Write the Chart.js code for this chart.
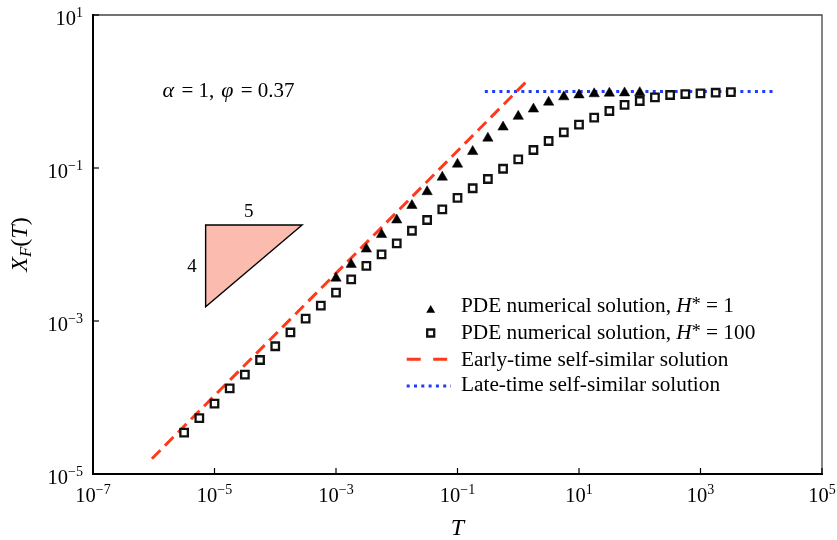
<!DOCTYPE html>
<html>
<head>
<meta charset="utf-8">
<script src="https://cdn.jsdelivr.net/npm/chart.js@4/dist/chart.umd.min.js"></script>
<style>
  html, body { margin: 0; padding: 0; background: #fff; }
  #wrap { width: 837px; height: 540px; }
</style>
</head>
<body>
<div id="wrap"><canvas id="c" width="837" height="540"></canvas></div>
<script>
// Front position X_F(T), stored as base-10 exponents of T and X_F.
const squaresLogT = [-5.5, -5.25, -5.0, -4.75, -4.5, -4.25, -4.0, -3.75, -3.5, -3.25,
                     -3.0, -2.75, -2.5, -2.25, -2.0, -1.75, -1.5, -1.25, -1.0, -0.75,
                     -0.5, -0.25, 0.0, 0.25, 0.5, 0.75, 1.0, 1.25, 1.5, 1.75,
                     2.0, 2.25, 2.5, 2.75, 3.0, 3.25, 3.5];
const squaresLogX = [-4.46, -4.27, -4.08, -3.88, -3.70, -3.51, -3.33, -3.15, -2.97, -2.80,
                     -2.63, -2.455, -2.28, -2.13, -1.985, -1.82, -1.68, -1.54, -1.39, -1.265,
                     -1.144, -1.01, -0.886, -0.765, -0.647, -0.533, -0.434, -0.342, -0.255, -0.176,
                     -0.124, -0.076, -0.046, -0.033, -0.024, -0.016, -0.007];

const trianglesLogT = [-3.0, -2.75, -2.5, -2.25, -2.0, -1.75, -1.5, -1.25, -1.0, -0.75,
                       -0.5, -0.25, 0.0, 0.25, 0.5, 0.75, 1.0, 1.25, 1.5, 1.75, 2.0];
const trianglesLogX = [-2.44, -2.26, -2.06, -1.87, -1.68, -1.49, -1.31, -1.12, -0.95, -0.785,
                       -0.61, -0.465, -0.325, -0.23, -0.14, -0.07, -0.045, -0.03, -0.022, -0.018, -0.015];

// Self-similar solutions (straight lines on log-log axes).
const earlyLogT = [-6.03, 0.14];
const earlyLogX = [-4.80, 0.135];
const lateLogT = [-0.55, 4.25];
const lateLogX = [0, 0];

// Slope marker (rise 4 over run 5).
const slopeLogT = [-5.146, -3.558, -5.146];
const slopeLogX = [-1.745, -1.745, -2.813];

// Decade exponents carrying labelled ticks.
const xTickExps = [-7, -5, -3, -1, 1, 3, 5];
const yTickExps = [-5, -3, -1, 1];

const legendLabels = [
  [{ t: 'PDE numerical solution, ' }, { t: 'H', it: true }, { t: '*', size: 18, dy: -2 }, { t: ' = 1' }],
  [{ t: 'PDE numerical solution, ' }, { t: 'H', it: true }, { t: '*', size: 18, dy: -2 }, { t: ' = 100' }],
  [{ t: 'Early-time self-similar solution' }],
  [{ t: 'Late-time self-similar solution' }]
];

const toPoints = (lt, lx) => lt.map((t, i) => ({ x: Math.pow(10, t), y: Math.pow(10, lx[i]) }));

const FAMILY = '"Liberation Serif", "Times New Roman", "DejaVu Serif", serif';
const RED = '#ff3a1c';
const BLUE = '#1e3cff';
const SALMON = '#fbbbaf';

function fontOf(s, base) { return (s.it ? 'italic ' : '') + (s.size || base || 20) + 'px ' + FAMILY; }
function richWidth(ctx, segs, base) {
  let w = 0;
  segs.forEach(s => { ctx.font = fontOf(s, base); w += ctx.measureText(s.t).width + (s.kern || 0); });
  return w;
}
function drawRich(ctx, x, y, segs, align, base) {
  const w = richWidth(ctx, segs, base);
  let cx = align === 'center' ? x - w / 2 : align === 'right' ? x - w : x;
  ctx.textAlign = 'left';
  ctx.textBaseline = 'alphabetic';
  segs.forEach(s => {
    ctx.font = fontOf(s, base);
    ctx.fillText(s.t, cx, y + (s.dy || 0));
    cx += ctx.measureText(s.t).width + (s.kern || 0);
  });
}
function drawTriangleMarker(ctx, x, y, r) {
  ctx.beginPath();
  let rad = 0;
  for (let k = 0; k < 3; k++) {
    const px = x + Math.sin(rad) * r, py = y - Math.cos(rad) * r;
    if (k === 0) ctx.moveTo(px, py); else ctx.lineTo(px, py);
    rad += 2 * Math.PI / 3;
  }
  ctx.closePath();
  ctx.fillStyle = '#000';
  ctx.fill();
}

const decor = {
  id: 'decor',
  beforeDatasetsDraw(chart) {
    const { ctx, scales: { x, y } } = chart;
    const px = slopeLogT.map(t => x.getPixelForValue(Math.pow(10, t)));
    const py = slopeLogX.map(v => y.getPixelForValue(Math.pow(10, v)));
    ctx.save();
    ctx.beginPath();
    ctx.moveTo(px[0], py[0]);
    ctx.lineTo(px[1], py[1]);
    ctx.lineTo(px[2], py[2]);
    ctx.closePath();
    ctx.fillStyle = SALMON;
    ctx.fill();
    ctx.lineWidth = 1.4;
    ctx.strokeStyle = '#000';
    ctx.stroke();
    ctx.fillStyle = '#000';
    drawRich(ctx, (px[0] + px[1]) / 2 - 5, py[0] - 8, [{ t: '5', size: 19 }], 'center');
    drawRich(ctx, px[0] - 9, (py[0] + py[2]) / 2 + 6.5, [{ t: '4', size: 19 }], 'right');
    ctx.restore();
  },
  afterDatasetsDraw(chart) {
    const { ctx, chartArea: a, scales: { x, y } } = chart;
    ctx.save();
    // frame
    ctx.lineCap = 'square';
    ctx.strokeStyle = '#444';
    ctx.lineWidth = 1.3;
    ctx.beginPath();
    ctx.moveTo(a.left, a.top); ctx.lineTo(a.right, a.top); ctx.lineTo(a.right, a.bottom);
    ctx.stroke();
    ctx.strokeStyle = '#000';
    ctx.lineWidth = 2;
    ctx.beginPath();
    ctx.moveTo(a.left, a.top); ctx.lineTo(a.left, a.bottom); ctx.lineTo(a.right, a.bottom);
    ctx.stroke();

    // inward ticks and labels
    ctx.lineWidth = 1.2;
    ctx.lineCap = 'butt';
    ctx.fillStyle = '#000';
    xTickExps.forEach(e => {
      const px = x.getPixelForValue(Math.pow(10, e));
      ctx.beginPath(); ctx.moveTo(px, a.bottom); ctx.lineTo(px, a.bottom - 6); ctx.stroke();
      drawRich(ctx, px, a.bottom + 28, [{ t: '10' }, { t: (e < 0 ? '\u2212' : '') + Math.abs(e), size: 14, dy: -8 }], 'center', 20.5);
    });
    yTickExps.forEach(e => {
      const py = y.getPixelForValue(Math.pow(10, e));
      ctx.beginPath(); ctx.moveTo(a.left, py); ctx.lineTo(a.left + 6, py); ctx.stroke();
      drawRich(ctx, a.left - 10, py + 9.5, [{ t: '10' }, { t: (e < 0 ? '\u2212' : '') + Math.abs(e), size: 14, dy: -8 }], 'right', 20.5);
    });

    // axis titles
    drawRich(ctx, (a.left + a.right) / 2, 535, [{ t: 'T', it: true, size: 24 }], 'center');
    ctx.save();
    ctx.translate(27, (a.top + a.bottom) / 2);
    ctx.rotate(-Math.PI / 2);
    drawRich(ctx, 0, 0, [{ t: 'X', it: true, size: 24 }, { t: 'F', it: true, size: 17, dy: 4 },
                         { t: '(', size: 24 }, { t: 'T', it: true, size: 24 }, { t: ')', size: 24 }], 'center');
    ctx.restore();

    // parameter note
    drawRich(ctx, x.getPixelForValue(Math.pow(10, -5.854)), y.getPixelForValue(Math.pow(10, -0.068)),
      [{ t: '\u03b1', it: true, size: 22, kern: 2 }, { t: ' = 1,', kern: 7 }, { t: '\u03c6', it: true, size: 22, kern: 2 }, { t: ' = 0.37' }], 'left', 21);

    // legend
    const ds = chart.data.datasets;
    const textX = 461, markX = 430.7;
    const base = [311.7, 339, 365.7, 390.7];
    drawTriangleMarker(ctx, markX, base[0] - 1.5, ds[0].pointRadius * 0.85);
    ctx.beginPath();
    const s = 7;
    ctx.rect(markX - s / 2, base[1] - 6 - s / 2, s, s);
    ctx.fillStyle = '#fff'; ctx.fill();
    ctx.lineWidth = ds[1].borderWidth; ctx.strokeStyle = ds[1].borderColor; ctx.stroke();
    ctx.lineWidth = ds[2].borderWidth;
    ctx.strokeStyle = ds[2].borderColor;
    ctx.setLineDash([14, 12.5]);
    ctx.beginPath(); ctx.moveTo(406.7, base[2] - 6.4); ctx.lineTo(449, base[2] - 6.4); ctx.stroke();
    ctx.lineWidth = ds[3].borderWidth;
    ctx.strokeStyle = ds[3].borderColor;
    ctx.setLineDash(ds[3].borderDash);
    ctx.beginPath(); ctx.moveTo(406.7, base[3] - 4.7); ctx.lineTo(451, base[3] - 4.7); ctx.stroke();
    ctx.setLineDash([]);
    ctx.fillStyle = '#000';
    legendLabels.forEach((segs, i) => drawRich(ctx, textX, base[i], segs, 'left', 21.3));
    ctx.restore();
  }
};

new Chart(document.getElementById('c'), {
  type: 'scatter',
  data: {
    datasets: [
      { label: 'PDE numerical solution, H* = 1', data: toPoints(trianglesLogT, trianglesLogX),
        pointStyle: 'triangle', pointRadius: 6, backgroundColor: '#000', borderColor: '#000',
        borderWidth: 0.5, order: 0 },
      { label: 'PDE numerical solution, H* = 100', data: toPoints(squaresLogT, squaresLogX),
        pointStyle: 'rect', pointRadius: 5.3, backgroundColor: '#fff', borderColor: '#111',
        borderWidth: 2.3, order: 1 },
      { label: 'Early-time self-similar solution', data: toPoints(earlyLogT, earlyLogX),
        showLine: true, pointRadius: 0, borderColor: RED, borderWidth: 3, borderDash: [12, 6.5],
        order: 2 },
      { label: 'Late-time self-similar solution', data: toPoints(lateLogT, lateLogX),
        showLine: true, pointRadius: 0, borderColor: BLUE, borderWidth: 3, borderDash: [3, 4.3],
        order: 3 }
    ]
  },
  options: {
    responsive: false,
    animation: false,
    devicePixelRatio: 1,
    layout: { padding: { left: 93, right: 15, top: 15, bottom: 66 } },
    plugins: { legend: { display: false }, tooltip: { enabled: false } },
    scales: {
      x: { type: 'logarithmic', display: false, min: 1e-7, max: 1e5 },
      y: { type: 'logarithmic', display: false, min: 1e-5, max: 1e1 }
    }
  },
  plugins: [decor]
});
</script>
</body>
</html>
